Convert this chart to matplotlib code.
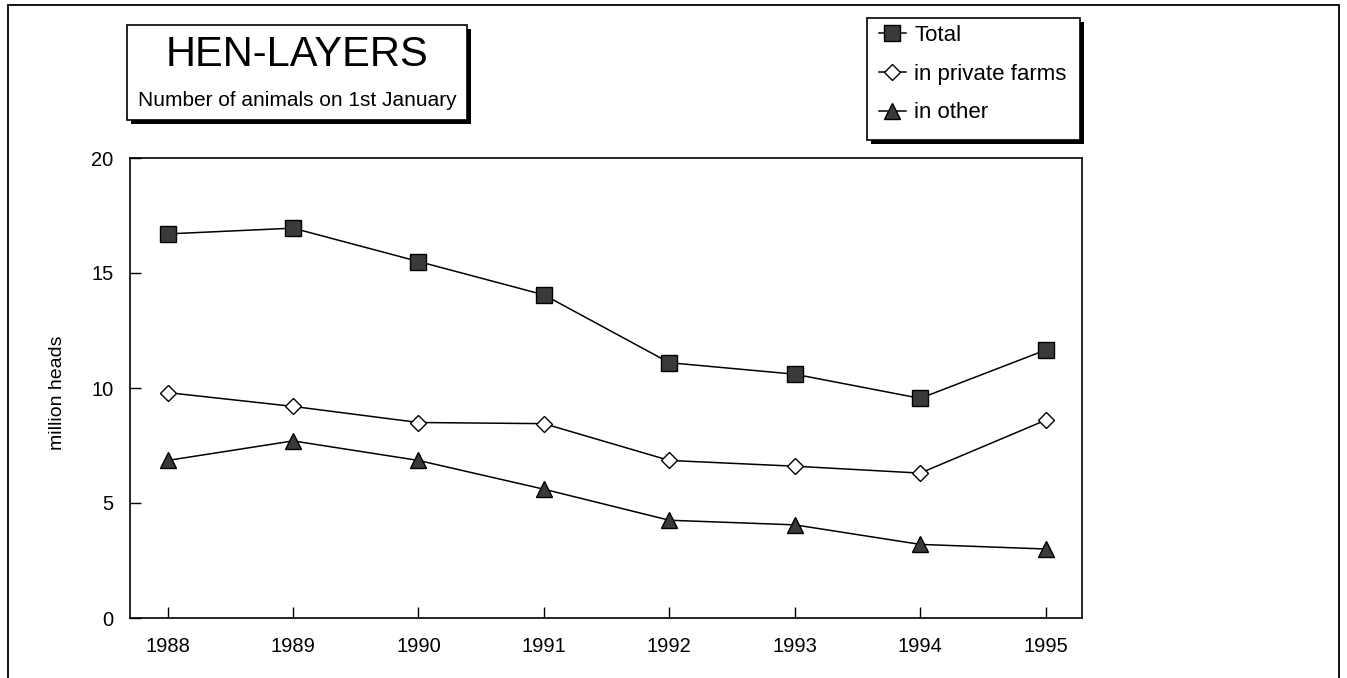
import numpy as np
import matplotlib.pyplot as plt
import matplotlib as mpl
from matplotlib.patches import Rectangle

mpl.rcParams['font.family'] = ['Liberation Sans', 'DejaVu Sans']

years = [1988, 1989, 1990, 1991, 1992, 1993, 1994, 1995]
total = [16.7, 16.95, 15.5, 14.05, 11.1, 10.6, 9.55, 11.65]
private = [9.8, 9.2, 8.5, 8.45, 6.85, 6.6, 6.3, 8.6]
other = [6.85, 7.7, 6.85, 5.6, 4.25, 4.05, 3.2, 3.0]
labels = ["Total", "in private farms", "in other"]

W, H = 1347, 678
fig = plt.figure(figsize=(W/100, H/100), dpi=100)

def fx(px):
    return px/W
def fy(py):
    return 1-py/H

# outer frame
fig.patches.append(Rectangle((fx(8), -0.02), fx(1339)-fx(8), fy(5)+0.02,
                             transform=fig.transFigure, fill=False, ec='black', lw=1.3))

ax = fig.add_axes([fx(130), fy(618), fx(1082)-fx(130), fy(158)-fy(618)])
l1, = ax.plot(years, total, c='black', lw=1.1, marker='s', ms=11, mfc='#3a3a3a', mec='black', mew=1)
l2, = ax.plot(years, private, c='black', lw=1.1, marker='D', ms=8, mfc='white', mec='black', mew=1)
l3, = ax.plot(years, other, c='black', lw=1.1, marker='^', ms=11, mfc='#3a3a3a', mec='black', mew=1)

ax.set_xlim(1987.7, 1995.29)
ax.set_ylim(0, 20)
ax.set_xticks(years)
ax.set_yticks([0, 5, 10, 15, 20])
ax.tick_params(direction='in', length=8, width=1, labelsize=14.5)
ax.tick_params(axis='x', pad=14)
ax.tick_params(axis='y', pad=12)
ax.set_ylabel('million heads', fontsize=14)
ax.yaxis.set_label_coords(-0.067, 0.49)
for s in ax.spines.values():
    s.set_linewidth(1.2)

# title box with shadow
fig.patches.append(Rectangle((fx(131), fy(124)), fx(471)-fx(131), fy(29)-fy(124),
                             transform=fig.transFigure, fc='black', ec='black', lw=0))
fig.patches.append(Rectangle((fx(127), fy(120)), fx(467)-fx(127), fy(25)-fy(120),
                             transform=fig.transFigure, fc='white', ec='black', lw=1.2))
fig.text(fx(297), fy(55), 'HEN-LAYERS', fontsize=30, ha='center', va='center')
fig.text(fx(297), fy(100), 'Number of animals on 1st January', fontsize=15, ha='center', va='center')

# legend box with shadow
fig.patches.append(Rectangle((fx(871), fy(144)), fx(1084)-fx(871), fy(22)-fy(144),
                             transform=fig.transFigure, fc='black', ec='black', lw=0))
fig.patches.append(Rectangle((fx(867), fy(140)), fx(1080)-fx(867), fy(18)-fy(140),
                             transform=fig.transFigure, fc='white', ec='black', lw=1.2))
leg = fig.legend([l1, l2, l3], labels, loc='upper left', bbox_to_anchor=(fx(870), fy(16)),
                 frameon=False, fontsize=16, handlelength=1.2, handletextpad=0.4,
                 labelspacing=0.8, borderaxespad=0, markerscale=1.0)

fig.savefig('out.png', dpi=100)
